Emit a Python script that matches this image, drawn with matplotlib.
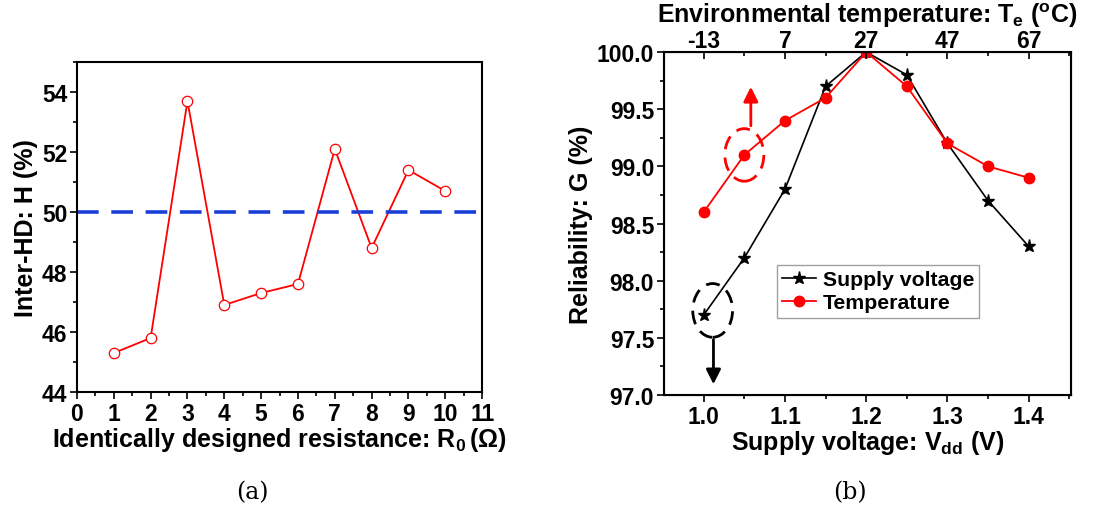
import matplotlib
matplotlib.use("Agg")
import matplotlib.pyplot as plt
from matplotlib.patches import Ellipse
from matplotlib.ticker import MultipleLocator, FormatStrFormatter

plt.rcParams['font.family'] = ['Liberation Sans', 'DejaVu Sans']
plt.rcParams['font.weight'] = 'bold'
plt.rcParams['axes.labelweight'] = 'bold'
plt.rcParams['mathtext.fontset'] = 'custom'
plt.rcParams['mathtext.rm'] = 'Liberation Sans:bold'
plt.rcParams['mathtext.it'] = 'Liberation Sans:bold'
plt.rcParams['mathtext.bf'] = 'Liberation Sans:bold'
plt.rcParams['mathtext.default'] = 'rm'

# (a) data
resistance = [1, 2, 3, 4, 5, 6, 7, 8, 9, 10]
inter_hd = [45.3, 45.8, 53.7, 46.9, 47.3, 47.6, 52.1, 48.8, 51.4, 50.7]
ideal_hd = 50

# (b) data
vdd = [1.0, 1.05, 1.1, 1.15, 1.2, 1.25, 1.3, 1.35, 1.4]
g_supply = [97.7, 98.2, 98.8, 99.7, 100.0, 99.8, 99.2, 98.7, 98.3]
g_temp = [98.6, 99.1, 99.4, 99.6, 100.0, 99.7, 99.2, 99.0, 98.9]
top_ticks = [1.0, 1.1, 1.2, 1.3, 1.4]
top_labels = ['-13', '7', '27', '47', '67']

fig = plt.figure(figsize=(11.01, 5.10), dpi=100)

fs = 16.5
lfs = 18
# ---------- (a) ----------
ax1 = fig.add_axes([0.0699, 0.2294, 0.368, 0.647])
ax1.plot(resistance, inter_hd, color='red', lw=1.3, marker='o', ms=7.5,
         mfc='white', mec='red', mew=0.9)
ax1.axhline(ideal_hd, color='#1a3fd6', lw=2.6, dashes=(6, 3.5))
ax1.set_xlim(0, 11)
ax1.set_ylim(44, 55)
ax1.xaxis.set_major_locator(MultipleLocator(1))
ax1.xaxis.set_minor_locator(MultipleLocator(0.5))
ax1.yaxis.set_major_locator(MultipleLocator(2))
ax1.yaxis.set_minor_locator(MultipleLocator(1))
ax1.tick_params(which='both', direction='out', top=False, right=False, labelsize=fs, width=1.2, pad=2)
ax1.tick_params(which='major', length=5)
ax1.tick_params(which='minor', length=3)
for s in ax1.spines.values():
    s.set_linewidth(1.5)
ax1.set_xlabel('Identically designed resistance: R$_0$$\\,$(Ω)', fontsize=lfs, labelpad=0)
ax1.set_ylabel('Inter-HD: H (%)', fontsize=lfs, labelpad=3)

# ---------- (b) ----------
ax2 = fig.add_axes([0.603, 0.2235, 0.3697, 0.6725])
ax2.plot(vdd, g_supply, color='black', lw=1.2, marker='*', ms=9.5, label='Supply voltage')
ax2.plot(vdd, g_temp, color='red', lw=1.3, marker='o', ms=7.5, label='Temperature')
ax2.set_xlim(0.951, 1.452)
ax2.set_ylim(97.0, 100.0)
ax2.xaxis.set_major_locator(MultipleLocator(0.1))
ax2.xaxis.set_minor_locator(MultipleLocator(0.05))
ax2.yaxis.set_major_locator(MultipleLocator(0.5))
ax2.yaxis.set_minor_locator(MultipleLocator(0.25))
ax2.yaxis.set_major_formatter(FormatStrFormatter('%.1f'))
ax2.xaxis.set_major_formatter(FormatStrFormatter('%.1f'))
ax2.tick_params(which='both', direction='out', top=False, right=False, labelsize=fs, width=1.2, pad=2)
ax2.tick_params(which='major', length=5)
ax2.tick_params(which='minor', length=3)
for s in ax2.spines.values():
    s.set_linewidth(1.5)
ax2.set_xlabel(r'Supply voltage: V$_{dd}$ (V)', fontsize=lfs, labelpad=0)
ax2.set_ylabel('Reliability: G (%)', fontsize=lfs, labelpad=3)

axt = ax2.twiny()
axt.set_xlim(ax2.get_xlim())
axt.set_xticks(top_ticks)
axt.set_xticklabels(top_labels)
axt.xaxis.set_minor_locator(MultipleLocator(0.05))
axt.tick_params(which='both', direction='in', labelsize=fs, width=1.2, pad=0)
axt.tick_params(which='major', length=5)
axt.tick_params(which='minor', length=3)
axt.set_xlabel(r'Environmental temperature: T$_e$ ($^o$C)', fontsize=lfs, labelpad=5)

leg = ax2.legend(loc='upper left', bbox_to_anchor=(0.278, 0.38), fontsize=15.3, frameon=True,
                 fancybox=False, edgecolor='#888888', handlelength=1.6, borderpad=0.25,
                 labelspacing=0.2, handletextpad=0.3, borderaxespad=0)
leg.get_frame().set_linewidth(1.0)

# dashed ellipses and arrows
e1 = Ellipse((1.05, 99.1), 0.048, 0.46, fill=False, edgecolor='red', lw=2.0, ls=(0, (5, 3)))
ax2.add_patch(e1)
ax2.annotate('', xy=(1.058, 99.72), xytext=(1.058, 99.33),
             arrowprops=dict(arrowstyle='-|>', color='red', lw=2, mutation_scale=22))
e2 = Ellipse((1.011, 97.74), 0.049, 0.47, fill=False, edgecolor='black', lw=2.0, ls=(0, (5, 3)))
ax2.add_patch(e2)
ax2.annotate('', xy=(1.012, 97.07), xytext=(1.012, 97.51),
             arrowprops=dict(arrowstyle='-|>', color='black', lw=2, mutation_scale=22))

# captions
fig.text(252 / 1101, 1 - 493 / 510, '(a)', ha='center', va='center', fontsize=17,
         family='DejaVu Serif', weight='normal')
fig.text(850 / 1101, 1 - 493 / 510, '(b)', ha='center', va='center', fontsize=17,
         family='DejaVu Serif', weight='normal')

fig.savefig('out.png', dpi=100)
